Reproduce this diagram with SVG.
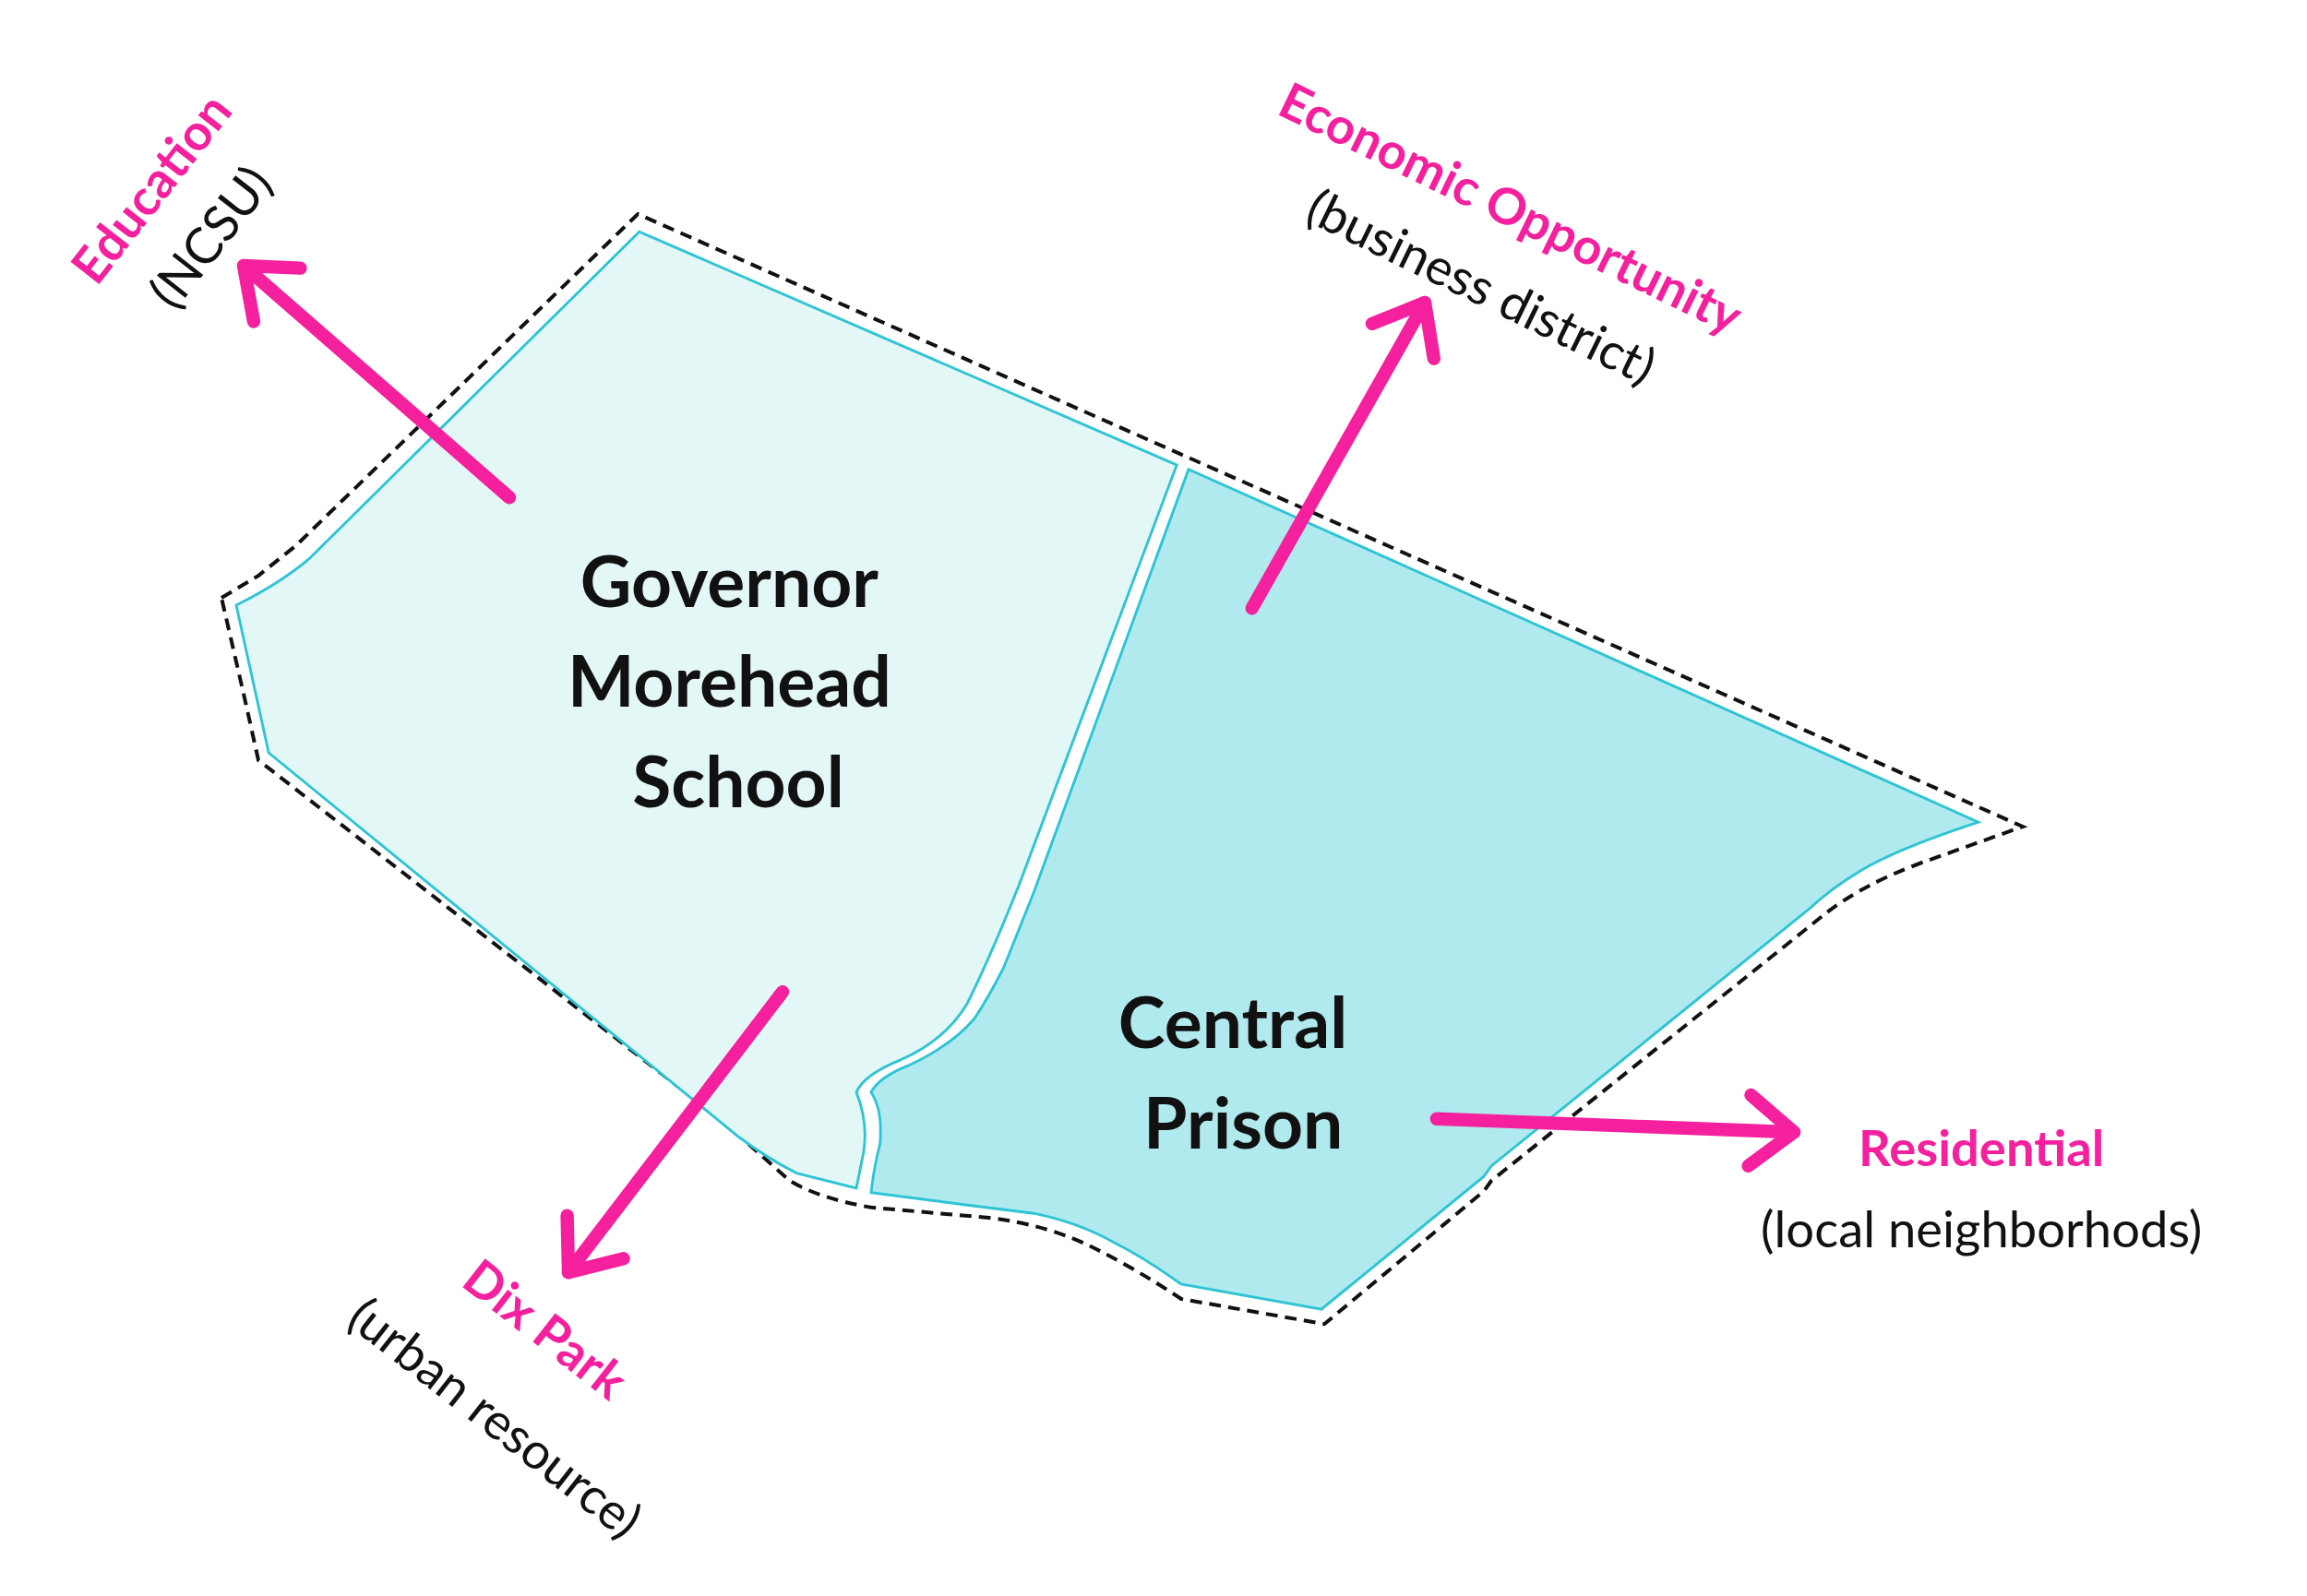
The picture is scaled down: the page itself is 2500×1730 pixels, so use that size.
<svg xmlns="http://www.w3.org/2000/svg" width="2500" height="1730" viewBox="0 0 2500 1730">
<style>
.lbl{font-family:Lato,"Open Sans",sans-serif;font-weight:700;font-size:48px;fill:#111;text-anchor:middle}
.mg{font-family:Lato,"Open Sans",sans-serif;font-weight:700;font-size:34px;fill:#f5209e;text-anchor:middle}
.sub{font-family:Lato,"Open Sans",sans-serif;font-size:34px;fill:#111;text-anchor:middle}
.con{stroke:#f5209e;stroke-width:9;fill:none;stroke-linecap:round;stroke-linejoin:round}
</style>
<defs>
<marker id="ah" markerUnits="userSpaceOnUse" viewBox="-40 -30 50 60" refX="0" refY="0" markerWidth="50" markerHeight="60" orient="auto" overflow="visible">
<path d="M-30,-24 L0,0 L-30,24" fill="none" stroke="#f5209e" stroke-width="9" stroke-linecap="round" stroke-linejoin="round"/>
</marker>
</defs>
<rect width="2500" height="1730" fill="#fff"/>
<g transform="scale(1.6)">
<g id="boundary">
<path d="M150,405 L175,390 L200,370 L432,145 L1370,560 L1300,585 Q1260,600 1235,620 L1010,800 L1005,807 L897,897 L800,880 Q770,860 740,845 Q710,830 670,825 L590,818 Q555,812 535,800 L490,760 L175,515 L165,470 Z" fill="none" stroke="#111" stroke-width="2.5" stroke-dasharray="8,5"/>
</g>
<g id="governor-morehead-school">
<path d="M160,410 Q190,395 210,378 L433,157 L797,315 L690,600 Q670,650 655,680 Q640,705 610,718 Q585,728 580,740 Q588,760 585,780 L580,805 Q560,800 540,795 Q520,785 500,770 L182,510 Z" fill="#e4f7f7" stroke="#2ec4d4" stroke-width="1.8"/>
<text class="lbl" x="494" y="411">Governor</text>
<text class="lbl" x="494" y="479">Morehead</text>
<text class="lbl" x="500" y="547">School</text>
</g>
<g id="central-prison">
<path d="M805,318 L1340,557 Q1285,575 1260,590 Q1240,602 1225,616 L1010,790 L1005,797 L895,887 L800,870 Q775,852 755,842 Q730,828 700,822 L660,817 L590,808 Q592,790 596,775 Q598,752 590,740 Q595,730 615,722 Q645,708 660,690 Q670,675 680,655 Q690,630 700,605 Z" fill="#b0eaee" stroke="#2ec4d4" stroke-width="1.8"/>
<text class="lbl" x="835" y="710">Central</text>
<text class="lbl" x="842" y="778">Prison</text>
</g>
<g id="connectors">
<line class="con" x1="345" y1="337" x2="165" y2="180" marker-end="url(#ah)"/>
<line class="con" x1="848" y1="412" x2="965" y2="205" marker-end="url(#ah)"/>
<line class="con" x1="530" y1="672" x2="385" y2="862" marker-end="url(#ah)"/>
<line class="con" x1="973" y1="758" x2="1215" y2="767" marker-end="url(#ah)"/>
</g>
<g id="education">
<text class="mg" transform="translate(112,135) rotate(-52)">Education</text>
<text class="sub" transform="translate(152,168) rotate(-52)">(NCSU)</text>
</g>
<g id="economic-opportunity">
<text class="mg" transform="translate(1018,152) rotate(26)">Economic Opportunity</text>
<text class="sub" transform="translate(998,205) rotate(26)">(business district)</text>
</g>
<g id="dix-park">
<text class="mg" transform="translate(362,910) rotate(38)">Dix Park</text>
<text class="sub" transform="translate(328,970) rotate(38)">(urban resource)</text>
</g>
<g id="residential">
<text class="mg" x="1342" y="790">Residential</text>
<text class="sub" x="1342" y="845">(local neighborhods)</text>
</g>
</g>
</svg>
